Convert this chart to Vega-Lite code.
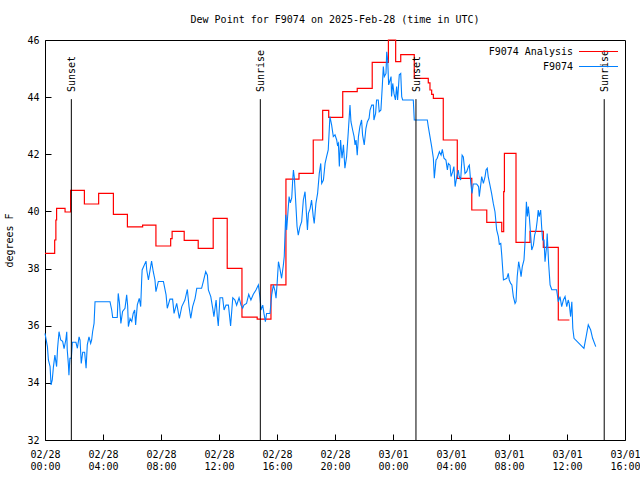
{
"$schema": "https://vega.github.io/schema/vega-lite/v6.json",
"width": 580, "height": 400,
"autosize": "none",
"padding": {"left": 45, "top": 40, "right": 15, "bottom": 40},
"background": "white",
"title": {"text": "Dew Point for F9074 on 2025-Feb-28 (time in UTC)", "font": "DejaVu Sans Mono", "fontSize": 10, "fontWeight": "normal", "color": "black", "offset": 10},
"config": {
 "view": {"stroke": "black", "strokeWidth": 1},
 "axis": {"grid": false, "domain": false, "ticks": true, "zindex": 1, "labelFont": "DejaVu Sans Mono", "labelFontSize": 10, "labelColor": "black", "titleFont": "DejaVu Sans Mono", "titleFontSize": 10, "titleFontWeight": "normal", "titleColor": "black", "tickColor": "black", "tickWidth": 1, "tickOpacity": 1},
 "legend": {"orient": "top-right", "offset": 4, "padding": 0, "symbolType": "M-3,0H3", "symbolSize": 169, "symbolStrokeWidth": 1.2, "labelFont": "DejaVu Sans Mono", "labelFontSize": 10, "labelColor": "black", "labelAlign": "right", "labelOffset": -33, "rowPadding": 2}
},
"datasets": {
 "analysis": [
  {"time":"2025-02-28T00:00Z","dewpoint":38.53},{"time":"2025-02-28T00:40Z","dewpoint":39.0},{"time":"2025-02-28T00:45Z","dewpoint":39.7},{"time":"2025-02-28T00:48Z","dewpoint":40.11},
  {"time":"2025-02-28T01:23Z","dewpoint":39.98},{"time":"2025-02-28T01:46Z","dewpoint":40.74},{"time":"2025-02-28T02:43Z","dewpoint":40.26},{"time":"2025-02-28T03:42Z","dewpoint":40.63},
  {"time":"2025-02-28T04:43Z","dewpoint":39.9},{"time":"2025-02-28T05:41Z","dewpoint":39.46},{"time":"2025-02-28T06:44Z","dewpoint":39.52},{"time":"2025-02-28T07:39Z","dewpoint":38.79},
  {"time":"2025-02-28T08:40Z","dewpoint":39.05},{"time":"2025-02-28T08:46Z","dewpoint":39.3},{"time":"2025-02-28T09:36Z","dewpoint":38.99},{"time":"2025-02-28T10:34Z","dewpoint":38.71},
  {"time":"2025-02-28T11:36Z","dewpoint":39.76},{"time":"2025-02-28T12:34Z","dewpoint":38.01},{"time":"2025-02-28T13:35Z","dewpoint":36.3},{"time":"2025-02-28T14:38Z","dewpoint":36.23},
  {"time":"2025-02-28T15:35Z","dewpoint":37.43},{"time":"2025-02-28T16:37Z","dewpoint":41.13},{"time":"2025-02-28T17:31Z","dewpoint":41.33},{"time":"2025-02-28T18:30Z","dewpoint":42.5},
  {"time":"2025-02-28T19:09Z","dewpoint":43.54},{"time":"2025-02-28T19:34Z","dewpoint":43.29},{"time":"2025-02-28T20:32Z","dewpoint":44.19},{"time":"2025-02-28T21:32Z","dewpoint":44.31},
  {"time":"2025-02-28T22:34Z","dewpoint":45.22},{"time":"2025-02-28T23:41Z","dewpoint":46.0},{"time":"2025-03-01T00:11Z","dewpoint":45.24},{"time":"2025-03-01T00:32Z","dewpoint":45.49},
  {"time":"2025-03-01T01:28Z","dewpoint":44.66},{"time":"2025-03-01T02:26Z","dewpoint":44.5},{"time":"2025-03-01T02:33Z","dewpoint":44.25},{"time":"2025-03-01T02:40Z","dewpoint":44.1},
  {"time":"2025-03-01T02:47Z","dewpoint":43.96},{"time":"2025-03-01T03:28Z","dewpoint":42.5},{"time":"2025-03-01T04:26Z","dewpoint":41.16},{"time":"2025-03-01T05:26Z","dewpoint":40.05},
  {"time":"2025-03-01T06:28Z","dewpoint":39.62},{"time":"2025-03-01T07:30Z","dewpoint":39.29},{"time":"2025-03-01T07:38Z","dewpoint":40.69},{"time":"2025-03-01T07:41Z","dewpoint":42.03},
  {"time":"2025-03-01T08:29Z","dewpoint":38.92},{"time":"2025-03-01T09:27Z","dewpoint":39.3},{"time":"2025-03-01T10:22Z","dewpoint":38.74},{"time":"2025-03-01T11:24Z","dewpoint":36.2},
  {"time":"2025-03-01T12:10Z","dewpoint":36.2}
 ],
 "obs": [
  {"time":"2025-02-28T00:00Z","dewpoint":35.73},{"time":"2025-02-28T00:10Z","dewpoint":35.27},{"time":"2025-02-28T00:14Z","dewpoint":34.8},{"time":"2025-02-28T00:21Z","dewpoint":34.57},
  {"time":"2025-02-28T00:25Z","dewpoint":33.93},{"time":"2025-02-28T00:30Z","dewpoint":34.1},{"time":"2025-02-28T00:35Z","dewpoint":34.57},{"time":"2025-02-28T00:41Z","dewpoint":34.97},
  {"time":"2025-02-28T00:48Z","dewpoint":34.57},{"time":"2025-02-28T00:52Z","dewpoint":35.21},{"time":"2025-02-28T00:58Z","dewpoint":35.79},{"time":"2025-02-28T01:05Z","dewpoint":35.5},
  {"time":"2025-02-28T01:13Z","dewpoint":35.45},{"time":"2025-02-28T01:19Z","dewpoint":35.2},{"time":"2025-02-28T01:26Z","dewpoint":35.5},{"time":"2025-02-28T01:30Z","dewpoint":35.79},
  {"time":"2025-02-28T01:32Z","dewpoint":35.16},{"time":"2025-02-28T01:37Z","dewpoint":34.62},{"time":"2025-02-28T01:39Z","dewpoint":34.27},{"time":"2025-02-28T01:43Z","dewpoint":34.86},
  {"time":"2025-02-28T01:49Z","dewpoint":34.86},{"time":"2025-02-28T01:53Z","dewpoint":35.42},{"time":"2025-02-28T02:08Z","dewpoint":35.42},{"time":"2025-02-28T02:14Z","dewpoint":35.21},
  {"time":"2025-02-28T02:21Z","dewpoint":35.61},{"time":"2025-02-28T02:25Z","dewpoint":35.5},{"time":"2025-02-28T02:30Z","dewpoint":34.68},{"time":"2025-02-28T02:36Z","dewpoint":35.07},
  {"time":"2025-02-28T02:44Z","dewpoint":35.07},{"time":"2025-02-28T02:50Z","dewpoint":34.51},{"time":"2025-02-28T02:55Z","dewpoint":35.33},{"time":"2025-02-28T03:02Z","dewpoint":35.61},
  {"time":"2025-02-28T03:09Z","dewpoint":35.38},{"time":"2025-02-28T03:13Z","dewpoint":35.5},{"time":"2025-02-28T03:17Z","dewpoint":35.79},{"time":"2025-02-28T03:23Z","dewpoint":36.08},
  {"time":"2025-02-28T03:27Z","dewpoint":36.84},{"time":"2025-02-28T04:29Z","dewpoint":36.84},{"time":"2025-02-28T04:36Z","dewpoint":36.55},{"time":"2025-02-28T04:40Z","dewpoint":36.29},
  {"time":"2025-02-28T04:59Z","dewpoint":36.29},{"time":"2025-02-28T05:03Z","dewpoint":37.13},{"time":"2025-02-28T05:08Z","dewpoint":36.8},{"time":"2025-02-28T05:14Z","dewpoint":36.08},
  {"time":"2025-02-28T05:21Z","dewpoint":36.5},{"time":"2025-02-28T05:31Z","dewpoint":36.61},{"time":"2025-02-28T05:38Z","dewpoint":37.08},{"time":"2025-02-28T05:42Z","dewpoint":36.7},
  {"time":"2025-02-28T05:45Z","dewpoint":35.97},{"time":"2025-02-28T05:52Z","dewpoint":36.25},{"time":"2025-02-28T05:59Z","dewpoint":36.15},{"time":"2025-02-28T06:05Z","dewpoint":36.43},
  {"time":"2025-02-28T06:11Z","dewpoint":36.55},{"time":"2025-02-28T06:15Z","dewpoint":36.03},{"time":"2025-02-28T06:22Z","dewpoint":36.73},{"time":"2025-02-28T06:30Z","dewpoint":36.96},
  {"time":"2025-02-28T06:36Z","dewpoint":36.67},{"time":"2025-02-28T06:40Z","dewpoint":37.6},{"time":"2025-02-28T06:42Z","dewpoint":37.95},{"time":"2025-02-28T06:58Z","dewpoint":38.26},
  {"time":"2025-02-28T07:01Z","dewpoint":37.95},{"time":"2025-02-28T07:08Z","dewpoint":37.6},{"time":"2025-02-28T07:21Z","dewpoint":38.26},{"time":"2025-02-28T07:28Z","dewpoint":37.89},
  {"time":"2025-02-28T07:35Z","dewpoint":37.6},{"time":"2025-02-28T07:39Z","dewpoint":37.19},{"time":"2025-02-28T07:49Z","dewpoint":37.55},{"time":"2025-02-28T08:10Z","dewpoint":37.55},
  {"time":"2025-02-28T08:21Z","dewpoint":37.08},{"time":"2025-02-28T08:26Z","dewpoint":36.61},{"time":"2025-02-28T08:37Z","dewpoint":36.93},{"time":"2025-02-28T08:48Z","dewpoint":36.93},
  {"time":"2025-02-28T08:54Z","dewpoint":36.43},{"time":"2025-02-28T09:05Z","dewpoint":36.78},{"time":"2025-02-28T09:16Z","dewpoint":36.26},{"time":"2025-02-28T09:26Z","dewpoint":36.67},
  {"time":"2025-02-28T09:39Z","dewpoint":36.9},{"time":"2025-02-28T09:49Z","dewpoint":37.27},{"time":"2025-02-28T09:56Z","dewpoint":36.67},{"time":"2025-02-28T10:03Z","dewpoint":36.26},
  {"time":"2025-02-28T10:11Z","dewpoint":36.67},{"time":"2025-02-28T10:21Z","dewpoint":36.96},{"time":"2025-02-28T10:28Z","dewpoint":37.31},{"time":"2025-02-28T10:48Z","dewpoint":37.31},
  {"time":"2025-02-28T10:55Z","dewpoint":37.54},{"time":"2025-02-28T11:05Z","dewpoint":37.89},{"time":"2025-02-28T11:12Z","dewpoint":37.77},{"time":"2025-02-28T11:16Z","dewpoint":37.25},
  {"time":"2025-02-28T11:26Z","dewpoint":37.02},{"time":"2025-02-28T11:34Z","dewpoint":36.61},{"time":"2025-02-28T11:39Z","dewpoint":36.32},{"time":"2025-02-28T11:48Z","dewpoint":36.9},
  {"time":"2025-02-28T11:53Z","dewpoint":36.32},{"time":"2025-02-28T11:57Z","dewpoint":35.99},{"time":"2025-02-28T12:04Z","dewpoint":36.98},{"time":"2025-02-28T12:15Z","dewpoint":36.98},
  {"time":"2025-02-28T12:21Z","dewpoint":36.55},{"time":"2025-02-28T12:29Z","dewpoint":36.72},{"time":"2025-02-28T12:39Z","dewpoint":36.72},{"time":"2025-02-28T12:48Z","dewpoint":35.99},
  {"time":"2025-02-28T12:57Z","dewpoint":36.98},{"time":"2025-02-28T13:06Z","dewpoint":36.9},{"time":"2025-02-28T13:13Z","dewpoint":36.72},{"time":"2025-02-28T13:23Z","dewpoint":36.98},
  {"time":"2025-02-28T13:31Z","dewpoint":36.72},{"time":"2025-02-28T13:38Z","dewpoint":36.61},{"time":"2025-02-28T13:43Z","dewpoint":36.72},{"time":"2025-02-28T13:54Z","dewpoint":36.78},
  {"time":"2025-02-28T14:03Z","dewpoint":37.1},{"time":"2025-02-28T14:12Z","dewpoint":36.9},{"time":"2025-02-28T14:22Z","dewpoint":37.1},{"time":"2025-02-28T14:33Z","dewpoint":37.25},
  {"time":"2025-02-28T14:43Z","dewpoint":37.43},{"time":"2025-02-28T14:50Z","dewpoint":36.96},{"time":"2025-02-28T14:54Z","dewpoint":36.55},{"time":"2025-02-28T15:01Z","dewpoint":36.72},
  {"time":"2025-02-28T15:06Z","dewpoint":36.43},{"time":"2025-02-28T15:12Z","dewpoint":36.14},{"time":"2025-02-28T15:17Z","dewpoint":36.43},{"time":"2025-02-28T15:31Z","dewpoint":36.43},
  {"time":"2025-02-28T15:38Z","dewpoint":37.08},{"time":"2025-02-28T15:45Z","dewpoint":37.43},{"time":"2025-02-28T15:52Z","dewpoint":37.2},{"time":"2025-02-28T15:56Z","dewpoint":36.96},
  {"time":"2025-02-28T16:01Z","dewpoint":37.54},{"time":"2025-02-28T16:06Z","dewpoint":38.24},{"time":"2025-02-28T16:12Z","dewpoint":38.0},{"time":"2025-02-28T16:19Z","dewpoint":37.66},
  {"time":"2025-02-28T16:26Z","dewpoint":38.1},{"time":"2025-02-28T16:30Z","dewpoint":38.42},{"time":"2025-02-28T16:33Z","dewpoint":39.17},{"time":"2025-02-28T16:36Z","dewpoint":39.88},
  {"time":"2025-02-28T16:40Z","dewpoint":39.35},{"time":"2025-02-28T16:44Z","dewpoint":39.82},{"time":"2025-02-28T16:50Z","dewpoint":40.52},{"time":"2025-02-28T16:55Z","dewpoint":40.3},
  {"time":"2025-02-28T17:01Z","dewpoint":40.47},{"time":"2025-02-28T17:05Z","dewpoint":41.1},{"time":"2025-02-28T17:08Z","dewpoint":41.45},{"time":"2025-02-28T17:12Z","dewpoint":41.16},
  {"time":"2025-02-28T17:17Z","dewpoint":40.4},{"time":"2025-02-28T17:23Z","dewpoint":39.47},{"time":"2025-02-28T17:28Z","dewpoint":39.17},{"time":"2025-02-28T17:35Z","dewpoint":39.47},
  {"time":"2025-02-28T17:42Z","dewpoint":39.64},{"time":"2025-02-28T17:49Z","dewpoint":40.4},{"time":"2025-02-28T17:56Z","dewpoint":40.69},{"time":"2025-02-28T18:00Z","dewpoint":40.17},
  {"time":"2025-02-28T18:06Z","dewpoint":39.35},{"time":"2025-02-28T18:10Z","dewpoint":39.93},{"time":"2025-02-28T18:17Z","dewpoint":40.1},{"time":"2025-02-28T18:23Z","dewpoint":40.4},
  {"time":"2025-02-28T18:30Z","dewpoint":39.82},{"time":"2025-02-28T18:34Z","dewpoint":39.58},{"time":"2025-02-28T18:41Z","dewpoint":40.28},{"time":"2025-02-28T18:48Z","dewpoint":40.63},
  {"time":"2025-02-28T18:55Z","dewpoint":41.33},{"time":"2025-02-28T19:01Z","dewpoint":41.68},{"time":"2025-02-28T19:05Z","dewpoint":40.98},{"time":"2025-02-28T19:12Z","dewpoint":41.1},
  {"time":"2025-02-28T19:19Z","dewpoint":41.68},{"time":"2025-02-28T19:25Z","dewpoint":41.91},{"time":"2025-02-28T19:32Z","dewpoint":42.15},{"time":"2025-02-28T19:39Z","dewpoint":43.32},
  {"time":"2025-02-28T19:46Z","dewpoint":43.03},{"time":"2025-02-28T19:53Z","dewpoint":42.62},{"time":"2025-02-28T20:00Z","dewpoint":42.68},{"time":"2025-02-28T20:07Z","dewpoint":42.5},
  {"time":"2025-02-28T20:10Z","dewpoint":42.33},{"time":"2025-02-28T20:14Z","dewpoint":42.39},{"time":"2025-02-28T20:18Z","dewpoint":41.57},{"time":"2025-02-28T20:23Z","dewpoint":42.5},
  {"time":"2025-02-28T20:29Z","dewpoint":41.86},{"time":"2025-02-28T20:35Z","dewpoint":42.33},{"time":"2025-02-28T20:41Z","dewpoint":41.51},{"time":"2025-02-28T20:48Z","dewpoint":41.92},
  {"time":"2025-02-28T20:55Z","dewpoint":42.79},{"time":"2025-02-28T21:02Z","dewpoint":43.72},{"time":"2025-02-28T21:06Z","dewpoint":43.14},{"time":"2025-02-28T21:13Z","dewpoint":42.85},
  {"time":"2025-02-28T21:19Z","dewpoint":42.62},{"time":"2025-02-28T21:23Z","dewpoint":42.33},{"time":"2025-02-28T21:27Z","dewpoint":42.5},{"time":"2025-02-28T21:32Z","dewpoint":41.97},
  {"time":"2025-02-28T21:37Z","dewpoint":42.62},{"time":"2025-02-28T21:43Z","dewpoint":42.97},{"time":"2025-02-28T21:50Z","dewpoint":43.2},{"time":"2025-02-28T21:54Z","dewpoint":42.68},
  {"time":"2025-02-28T22:01Z","dewpoint":42.33},{"time":"2025-02-28T22:08Z","dewpoint":42.91},{"time":"2025-02-28T22:14Z","dewpoint":43.14},{"time":"2025-02-28T22:21Z","dewpoint":43.26},
  {"time":"2025-02-28T22:25Z","dewpoint":43.55},{"time":"2025-02-28T22:32Z","dewpoint":43.72},{"time":"2025-02-28T22:39Z","dewpoint":43.72},{"time":"2025-02-28T22:41Z","dewpoint":43.2},
  {"time":"2025-02-28T22:48Z","dewpoint":43.43},{"time":"2025-02-28T22:52Z","dewpoint":43.9},{"time":"2025-02-28T22:59Z","dewpoint":43.9},{"time":"2025-02-28T23:03Z","dewpoint":43.49},
  {"time":"2025-02-28T23:10Z","dewpoint":43.55},{"time":"2025-02-28T23:16Z","dewpoint":44.43},{"time":"2025-02-28T23:20Z","dewpoint":45.07},{"time":"2025-02-28T23:24Z","dewpoint":44.72},
  {"time":"2025-02-28T23:31Z","dewpoint":44.83},{"time":"2025-02-28T23:34Z","dewpoint":45.59},{"time":"2025-02-28T23:38Z","dewpoint":45.3},{"time":"2025-02-28T23:42Z","dewpoint":44.43},
  {"time":"2025-02-28T23:48Z","dewpoint":44.6},{"time":"2025-02-28T23:52Z","dewpoint":44.72},{"time":"2025-02-28T23:54Z","dewpoint":44.02},{"time":"2025-02-28T23:59Z","dewpoint":44.48},
  {"time":"2025-03-01T00:04Z","dewpoint":44.13},{"time":"2025-03-01T00:10Z","dewpoint":43.9},{"time":"2025-03-01T00:15Z","dewpoint":44.37},{"time":"2025-03-01T00:19Z","dewpoint":43.9},
  {"time":"2025-03-01T00:26Z","dewpoint":44.78},{"time":"2025-03-01T00:32Z","dewpoint":44.83},{"time":"2025-03-01T00:36Z","dewpoint":44.02},{"time":"2025-03-01T00:40Z","dewpoint":43.9},
  {"time":"2025-03-01T01:24Z","dewpoint":43.9},{"time":"2025-03-01T01:28Z","dewpoint":43.2},{"time":"2025-03-01T02:22Z","dewpoint":43.2},{"time":"2025-03-01T02:26Z","dewpoint":42.97},
  {"time":"2025-03-01T02:33Z","dewpoint":42.62},{"time":"2025-03-01T02:40Z","dewpoint":42.27},{"time":"2025-03-01T02:47Z","dewpoint":41.86},{"time":"2025-03-01T02:51Z","dewpoint":41.16},
  {"time":"2025-03-01T02:58Z","dewpoint":41.8},{"time":"2025-03-01T03:03Z","dewpoint":41.86},{"time":"2025-03-01T03:12Z","dewpoint":42.09},{"time":"2025-03-01T03:19Z","dewpoint":41.97},
  {"time":"2025-03-01T03:24Z","dewpoint":42.17},{"time":"2025-03-01T03:31Z","dewpoint":41.86},{"time":"2025-03-01T03:39Z","dewpoint":41.8},{"time":"2025-03-01T03:45Z","dewpoint":41.45},
  {"time":"2025-03-01T03:49Z","dewpoint":41.68},{"time":"2025-03-01T03:56Z","dewpoint":41.62},{"time":"2025-03-01T04:00Z","dewpoint":41.22},{"time":"2025-03-01T04:07Z","dewpoint":41.39},
  {"time":"2025-03-01T04:12Z","dewpoint":41.57},{"time":"2025-03-01T04:17Z","dewpoint":40.87},{"time":"2025-03-01T04:24Z","dewpoint":41.22},{"time":"2025-03-01T04:30Z","dewpoint":41.45},
  {"time":"2025-03-01T04:34Z","dewpoint":41.22},{"time":"2025-03-01T04:40Z","dewpoint":41.1},{"time":"2025-03-01T04:46Z","dewpoint":41.97},{"time":"2025-03-01T04:51Z","dewpoint":41.91},
  {"time":"2025-03-01T04:58Z","dewpoint":41.33},{"time":"2025-03-01T05:05Z","dewpoint":41.39},{"time":"2025-03-01T05:12Z","dewpoint":41.57},{"time":"2025-03-01T05:16Z","dewpoint":41.62},
  {"time":"2025-03-01T05:22Z","dewpoint":40.98},{"time":"2025-03-01T05:27Z","dewpoint":40.63},{"time":"2025-03-01T05:32Z","dewpoint":40.96},{"time":"2025-03-01T05:46Z","dewpoint":40.96},
  {"time":"2025-03-01T05:54Z","dewpoint":40.87},{"time":"2025-03-01T05:57Z","dewpoint":40.52},{"time":"2025-03-01T06:03Z","dewpoint":40.93},{"time":"2025-03-01T06:07Z","dewpoint":41.22},
  {"time":"2025-03-01T06:14Z","dewpoint":40.98},{"time":"2025-03-01T06:21Z","dewpoint":41.22},{"time":"2025-03-01T06:25Z","dewpoint":41.45},{"time":"2025-03-01T06:30Z","dewpoint":41.51},
  {"time":"2025-03-01T06:34Z","dewpoint":41.22},{"time":"2025-03-01T06:41Z","dewpoint":40.93},{"time":"2025-03-01T06:48Z","dewpoint":40.63},{"time":"2025-03-01T06:55Z","dewpoint":40.28},
  {"time":"2025-03-01T07:02Z","dewpoint":39.99},{"time":"2025-03-01T07:09Z","dewpoint":39.35},{"time":"2025-03-01T07:16Z","dewpoint":39.12},{"time":"2025-03-01T07:20Z","dewpoint":38.85},
  {"time":"2025-03-01T07:26Z","dewpoint":38.88},{"time":"2025-03-01T07:30Z","dewpoint":38.47},{"time":"2025-03-01T07:37Z","dewpoint":37.6},{"time":"2025-03-01T07:51Z","dewpoint":37.66},
  {"time":"2025-03-01T07:57Z","dewpoint":37.83},{"time":"2025-03-01T08:01Z","dewpoint":37.6},{"time":"2025-03-01T08:07Z","dewpoint":37.48},{"time":"2025-03-01T08:12Z","dewpoint":37.43},
  {"time":"2025-03-01T08:18Z","dewpoint":37.02},{"time":"2025-03-01T08:25Z","dewpoint":36.78},{"time":"2025-03-01T08:29Z","dewpoint":36.84},{"time":"2025-03-01T08:34Z","dewpoint":37.72},
  {"time":"2025-03-01T08:40Z","dewpoint":38.24},{"time":"2025-03-01T08:46Z","dewpoint":37.95},{"time":"2025-03-01T08:50Z","dewpoint":37.72},{"time":"2025-03-01T08:55Z","dewpoint":38.07},
  {"time":"2025-03-01T09:02Z","dewpoint":38.3},{"time":"2025-03-01T09:06Z","dewpoint":38.88},{"time":"2025-03-01T09:12Z","dewpoint":40.34},{"time":"2025-03-01T09:16Z","dewpoint":39.82},
  {"time":"2025-03-01T09:20Z","dewpoint":40.17},{"time":"2025-03-01T09:24Z","dewpoint":39.82},{"time":"2025-03-01T09:30Z","dewpoint":39.12},{"time":"2025-03-01T09:34Z","dewpoint":38.65},
  {"time":"2025-03-01T09:41Z","dewpoint":38.82},{"time":"2025-03-01T09:46Z","dewpoint":39.17},{"time":"2025-03-01T09:52Z","dewpoint":39.35},{"time":"2025-03-01T09:57Z","dewpoint":39.7},
  {"time":"2025-03-01T10:01Z","dewpoint":40.05},{"time":"2025-03-01T10:05Z","dewpoint":39.82},{"time":"2025-03-01T10:11Z","dewpoint":40.05},{"time":"2025-03-01T10:15Z","dewpoint":39.47},
  {"time":"2025-03-01T10:19Z","dewpoint":39.0},{"time":"2025-03-01T10:25Z","dewpoint":39.0},{"time":"2025-03-01T10:29Z","dewpoint":38.24},{"time":"2025-03-01T10:36Z","dewpoint":38.82},
  {"time":"2025-03-01T10:38Z","dewpoint":39.23},{"time":"2025-03-01T10:44Z","dewpoint":38.18},{"time":"2025-03-01T10:50Z","dewpoint":37.43},{"time":"2025-03-01T10:57Z","dewpoint":37.26},
  {"time":"2025-03-01T11:17Z","dewpoint":37.26},{"time":"2025-03-01T11:24Z","dewpoint":36.84},{"time":"2025-03-01T11:31Z","dewpoint":37.02},{"time":"2025-03-01T11:38Z","dewpoint":36.67},
  {"time":"2025-03-01T11:45Z","dewpoint":36.9},{"time":"2025-03-01T11:52Z","dewpoint":37.02},{"time":"2025-03-01T11:59Z","dewpoint":36.67},{"time":"2025-03-01T12:05Z","dewpoint":36.9},
  {"time":"2025-03-01T12:09Z","dewpoint":36.78},{"time":"2025-03-01T12:15Z","dewpoint":36.32},{"time":"2025-03-01T12:20Z","dewpoint":36.84},{"time":"2025-03-01T12:24Z","dewpoint":35.91},
  {"time":"2025-03-01T12:29Z","dewpoint":35.56},{"time":"2025-03-01T13:10Z","dewpoint":35.21},{"time":"2025-03-01T13:19Z","dewpoint":35.61},{"time":"2025-03-01T13:28Z","dewpoint":36.03},
  {"time":"2025-03-01T13:38Z","dewpoint":35.85},{"time":"2025-03-01T13:46Z","dewpoint":35.56},{"time":"2025-03-01T13:59Z","dewpoint":35.27}
 ],
 "sun": [
  {"time":"2025-02-28T01:49Z","event":"Sunset"},
  {"time":"2025-02-28T14:51Z","event":"Sunrise"},
  {"time":"2025-03-01T01:35Z","event":"Sunset"},
  {"time":"2025-03-01T14:34Z","event":"Sunrise"}
 ]
},
"layer": [
 {
  "data": {"name": "analysis"},
  "mark": {"type": "line", "interpolate": "step-after", "strokeWidth": 1.2},
  "encoding": {
   "x": {"field": "time", "type": "temporal",
    "scale": {"type": "utc", "domain": [1740700800000, 1740844800000]},
    "axis": {"orient": "bottom", "title": null, "values": [1740700800000, 1740715200000, 1740729600000, 1740744000000, 1740758400000, 1740772800000, 1740787200000, 1740801600000, 1740816000000, 1740830400000, 1740844800000],
     "labelExpr": "[utcFormat(datum.value, '%m/%d'), utcFormat(datum.value, '%H:%M')]", "tickSize": -6, "labelPadding": 15, "labelLineHeight": 12, "labelOverlap": false, "labelFlush": false}},
   "y": {"field": "dewpoint", "type": "quantitative",
    "scale": {"domain": [32, 46], "nice": false, "zero": false},
    "axis": {"orient": "left", "values": [32, 34, 36, 38, 40, 42, 44, 46], "tickSize": -6, "labelPadding": 12, "title": "degrees F", "titlePadding": 12}},
   "color": {"datum": "F9074 Analysis", "type": "nominal",
    "scale": {"domain": ["F9074 Analysis", "F9074"], "range": ["#ff0000", "#0080ff"]},
    "legend": {"title": null}}
  }
 },
 {
  "data": {"name": "obs"},
  "mark": {"type": "line", "strokeWidth": 1.1},
  "encoding": {
   "x": {"field": "time", "type": "temporal"},
   "y": {"field": "dewpoint", "type": "quantitative"},
   "color": {"datum": "F9074", "type": "nominal"}
  }
 },
 {
  "data": {"name": "sun"},
  "mark": {"type": "rule", "color": "black", "strokeWidth": 1},
  "encoding": {
   "x": {"field": "time", "type": "temporal"},
   "y": {"datum": 32, "type": "quantitative"},
   "y2": {"datum": 43.93}
  }
 },
 {
  "data": {"name": "sun"},
  "mark": {"type": "text", "angle": 270, "align": "left", "baseline": "middle", "font": "DejaVu Sans Mono", "fontSize": 10, "color": "black", "dy": 1},
  "encoding": {
   "x": {"field": "time", "type": "temporal"},
   "y": {"datum": 44.18, "type": "quantitative"},
   "text": {"field": "event", "type": "nominal"}
  }
 }
]
}
